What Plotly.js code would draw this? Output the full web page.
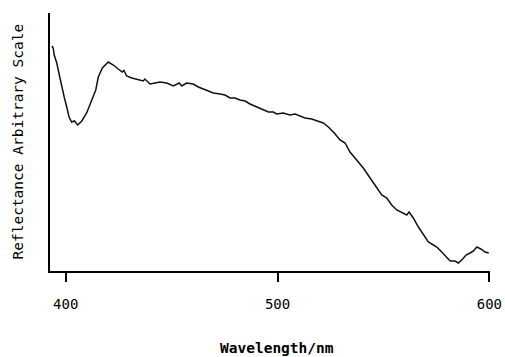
<!DOCTYPE html>
<html>
<head>
<meta charset="utf-8">
<script src="https://cdn.plot.ly/plotly-3.0.1.min.js"></script>
<style>html,body{margin:0;padding:0;background:#fff;}#chart{width:505px;height:357px;}</style>
</head>
<body>
<div id="chart"></div>
<script>
// Wavelength (nm)
var wavelength = [393.5,394.1,394.6,395.8,396.8,398.1,399.3,400.5,401.6,402.8,404.1,405.7,407.6,409.9,412.3,414.2,415.4,417.3,420.1,422.5,424.8,426.7,427.5,428.8,431.2,434.3,436.6,437.4,439.8,442.2,444.5,447.7,450.8,453.6,454.8,457.1,460.2,462.6,465.0,467.3,469.7,472.9,475.2,477.6,479.9,482.3,484.7,487.0,489.4,492.5,495.7,498.0,499.6,502.7,505.9,508.3,510.6,513.0,516.1,519.3,521.6,524.0,526.8,529.5,531.9,534.2,537.4,540.5,543.7,546.8,549.2,551.6,553.9,556.3,559.4,561.0,562.1,564.1,566.5,568.8,571.2,573.6,575.2,577.5,579.1,581.5,583.8,585.4,587.4,589.0,590.9,592.5,594.1,596.0,598.0,599.7];
// Reflectance (arbitrary scale)
var reflectance = [225,223,216,208,198,184,174,164,154,149,150,146,150,158,171,181,194,203,209,206,202,199,200.5,195,193,191,190,192,187,188,189,188,185,188,185,188,187,184,182,180,178,177,176,173,173,171,170,167,165,162,159,159,157,158,156,157,155,153,152,150,148,144,138,131,128,119,111,103,93,83,76,73,66,61,58,56,59,53,44,36,29,26,24,19,15,10,10,8,12,16,18,20,24,22,19,18];
var tickValues = [400, 500, 600];
var tickLabels = ["400", "500", "600"];
var xTitle = "Wavelength/nm";
var yTitle = "Reflectance Arbitrary Scale";

var font = "DejaVu Sans Mono, monospace";
var trace = {
  x: wavelength, y: reflectance, type: "scatter", mode: "lines",
  line: {color: "#111", width: 1.5}, hoverinfo: "skip"
};
var layout = {
  width: 505, height: 357,
  margin: {l: 50, r: 15, t: 13, b: 86},
  paper_bgcolor: "#fff", plot_bgcolor: "#fff",
  showlegend: false,
  font: {family: font, color: "#000", size: 14},
  xaxis: {
    range: [392.6, 600.3], showgrid: false, zeroline: false,
    showline: true, linecolor: "#000", linewidth: 2,
    tickmode: "array", tickvals: tickValues, ticktext: tickLabels,
    ticks: "outside", ticklen: 9, tickwidth: 2, tickcolor: "#000",
    ticklabelstandoff: 10,
    tickfont: {family: font, size: 14, color: "#000"}
  },
  yaxis: {
    range: [0, 258], showgrid: false, zeroline: false,
    showline: true, linecolor: "#000", linewidth: 2,
    showticklabels: false, ticks: ""
  },
  annotations: [
    {text: xTitle, xref: "paper", yref: "paper", x: 0.517, y: 0, yshift: -77,
     xanchor: "center", yanchor: "middle", showarrow: false,
     font: {family: font, size: 14.5, color: "#000", weight: "bold"}},
    {text: yTitle, xref: "paper", yref: "paper", x: -0.0727, y: 0.502,
     xanchor: "center", yanchor: "middle", showarrow: false, textangle: -90,
     font: {family: font, size: 14.5, color: "#000"}}
  ]
};
Plotly.newPlot("chart", [trace], layout, {staticPlot: true, displayModeBar: false});
</script>
</body>
</html>
